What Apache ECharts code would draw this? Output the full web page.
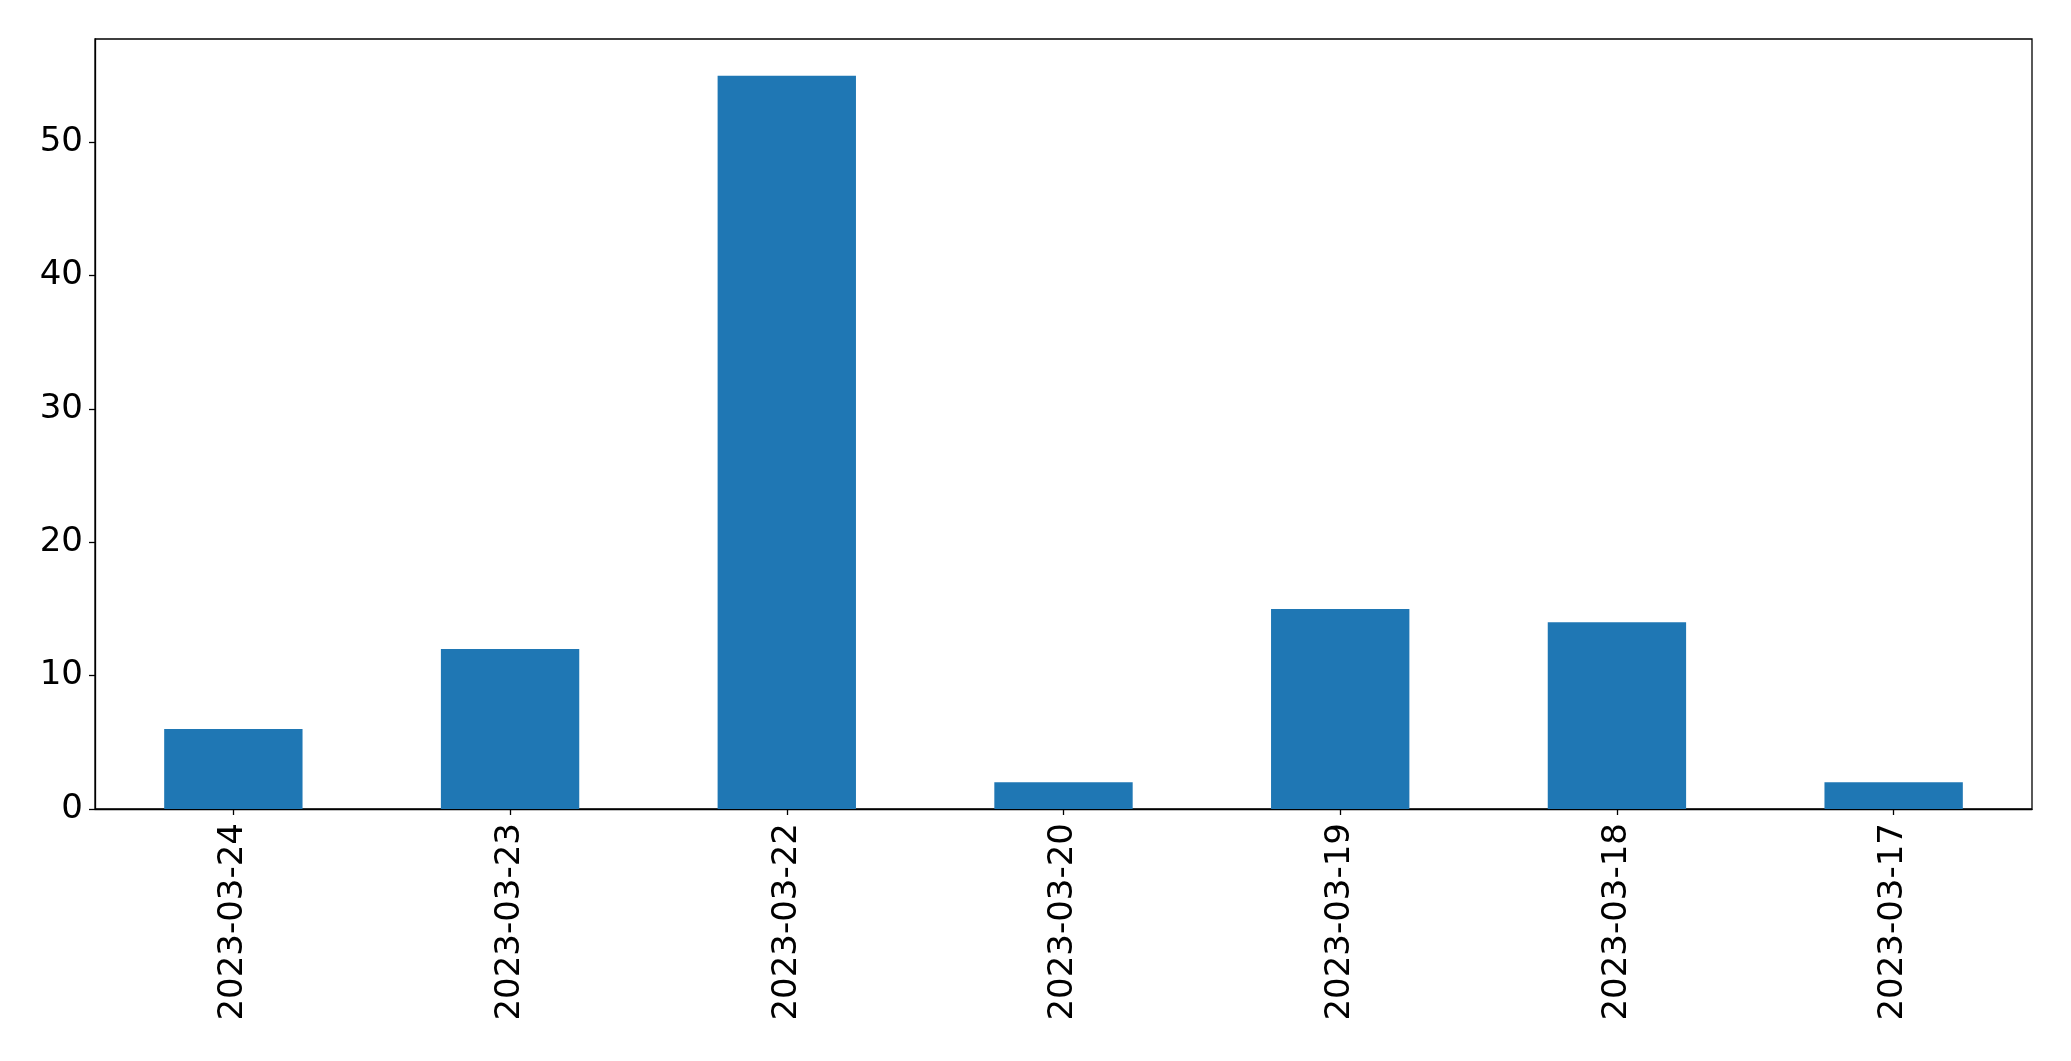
<!DOCTYPE html>
<html>
<head>
<meta charset="utf-8">
<script src="https://cdn.jsdelivr.net/npm/echarts@6/dist/echarts.min.js"></script>
<style>
html,body{margin:0;padding:0;background:#fff;}
#chart{width:2071px;height:1061px;}
</style>
</head>
<body>
<div id="chart"></div>
<script>
const categories = ['2023-03-24','2023-03-23','2023-03-22','2023-03-20','2023-03-19','2023-03-18','2023-03-17'];
const values = [6, 12, 55, 2, 15, 14, 2];
const yTicks = [0, 10, 20, 30, 40, 50];

const chart = echarts.init(document.getElementById('chart'), null, {renderer: 'canvas'});
const font = 'DejaVu Sans';
chart.setOption({
  animation: false,
  backgroundColor: '#ffffff',
  grid: {left: 95, right: 39, top: 39, bottom: 252, show: true, borderColor: '#000', borderWidth: 1.3, backgroundColor: 'transparent'},
  xAxis: {
    type: 'category',
    data: categories,
    boundaryGap: true,
    axisLine: {show: true, lineStyle: {color: '#000', width: 1.3}},
    axisTick: {show: true, alignWithLabel: true, length: 6, lineStyle: {color: '#000', width: 1.3}},
    axisLabel: {rotate: 90, color: '#000', fontSize: 34, fontFamily: font, margin: 14, interval: 0}
  },
  yAxis: {
    type: 'value',
    min: 0,
    max: 57.75,
    interval: 10,
    splitLine: {show: false},
    axisLine: {show: true, lineStyle: {color: '#000', width: 1.3}},
    axisTick: {show: true, length: 6, lineStyle: {color: '#000', width: 1.3}},
    axisLabel: {color: '#000', fontSize: 34, fontFamily: font, margin: 12,
      formatter: v => yTicks.includes(v) ? String(v) : '',
      showMaxLabel: false}
  },
  series: [{
    type: 'bar',
    data: values,
    barWidth: '50%',
    itemStyle: {color: '#1f77b4'}
  }]
});
</script>
</body>
</html>
